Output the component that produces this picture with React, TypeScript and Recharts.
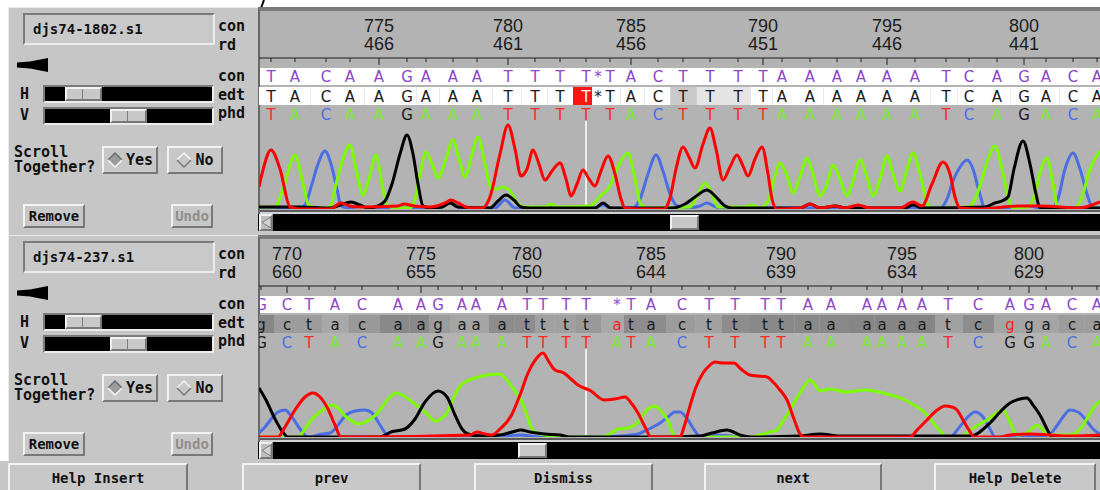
import React from "react";
import {
  ComposedChart,
  LineChart,
  Line,
  Scatter,
  XAxis,
  YAxis,
  ReferenceArea,
  ReferenceLine,
} from "recharts";

// ---- data: top read (djs74-1802.s1) ----
const topScans = [
  271, 295, 326, 350, 379, 407, 426, 453, 477, 508, 535, 560, 586, 598, 610, 631, 658,
  683, 710, 738, 763, 782, 810, 837, 861, 887, 915, 946, 969, 997, 1024, 1046, 1073, 1097,
];
const topCon = "TACAAGAAATTTT*TACTTTTAAAAAATCAGACA";
const topEdt = "TACAAGAAATTTT*TACTTTTAAAAAATCAGACA";
const topPhd = "TACAAGAAATTTT-TACTTTTAAAAAATCAGACA";
const topQual = [
  95, 95, 95, 95, 95, 95, 95, 95, 95, 95, 95, 95, 95, 95, 95, 95, 95, 60, 75, 75, 95, 95,
  95, 95, 95, 95, 95, 95, 95, 95, 95, 95, 95, 95,
];
const topReadLabels = [466, 461, 456, 451, 446, 441];

const topT = [
  [259, 22], [262, 35], [271, 59], [280, 40], [290, 2], [300, 0], [330, 0], [341, 6], [350, 3],
  [360, 2], [398, 3], [404, 5], [414, 3], [430, 2], [445, 6], [451, 9], [458, 6], [470, 1],
  [482, 1], [490, 12], [500, 55], [508, 84], [515, 60], [521, 33], [527, 40], [533, 59],
  [539, 45], [545, 29], [552, 38], [560, 46], [566, 30], [571, 13], [577, 25], [583, 39],
  [589, 30], [595, 23], [601, 38], [608, 53], [615, 35], [621, 10], [625, 1], [640, 0],
  [664, 0], [670, 11], [676, 40], [683, 62], [689, 52], [695, 41], [703, 65], [710, 81],
  [716, 60], [723, 29], [730, 42], [737, 54], [743, 43], [748, 33], [755, 50], [762, 62],
  [768, 35], [772, 10], [777, 0], [800, 1], [810, 5], [820, 1], [835, 3], [845, 1], [858, 4],
  [870, 1], [900, 1], [913, 7], [922, 3], [932, 25], [943, 47], [950, 35], [955, 12],
  [960, 1], [980, 0], [1018, 3], [1040, 3], [1080, 1], [1092, 4], [1100, 7],
];
const topA = [
  [259, 2], [275, 2], [283, 20], [295, 54], [303, 25], [309, 3], [320, 1], [330, 2], [336, 25],
  [343, 50], [350, 64], [356, 40], [363, 14], [369, 30], [376, 54], [382, 25], [387, 4],
  [395, 1], [410, 1], [415, 10], [420, 35], [426, 57], [432, 45], [438, 31], [446, 50],
  [453, 69], [459, 50], [465, 32], [472, 55], [478, 72], [485, 45], [491, 21], [497, 20],
  [503, 22], [510, 18], [518, 5], [525, 2], [545, 2], [551, 5], [557, 2], [590, 3], [601, 14],
  [608, 20], [615, 35], [622, 50], [628, 56], [634, 35], [641, 4], [650, 1], [690, 2],
  [698, 15], [705, 26], [712, 15], [718, 2], [745, 2], [752, 4], [760, 1], [768, 8], [774, 30],
  [780, 46], [787, 33], [793, 16], [800, 32], [807, 51], [813, 35], [820, 13], [827, 25],
  [833, 44], [840, 30], [847, 13], [853, 28], [860, 49], [867, 32], [873, 13], [880, 30],
  [887, 53], [893, 35], [900, 18], [906, 36], [913, 56], [920, 35], [926, 10], [930, 1],
  [968, 2], [975, 10], [982, 30], [988, 50], [995, 63], [1002, 40], [1008, 12], [1013, 1],
  [1028, 2], [1035, 15], [1041, 40], [1047, 51], [1053, 25], [1058, 1], [1075, 1], [1082, 12],
  [1090, 40], [1100, 58],
];
const topC = [
  [259, 1], [300, 1], [305, 4], [312, 25], [318, 45], [325, 58], [331, 45], [337, 20], [341, 3],
  [350, 1], [360, 3], [370, 1], [440, 1], [451, 7], [460, 1], [495, 1], [505, 9], [515, 1],
  [595, 1], [603, 4], [610, 1], [633, 1], [640, 10], [648, 35], [656, 54], [663, 38], [670, 15],
  [676, 4], [685, 1], [700, 3], [707, 6], [714, 3], [720, 1], [940, 1], [947, 10], [953, 28],
  [960, 42], [967, 49], [973, 40], [979, 18], [985, 1], [1020, 1], [1030, 3], [1040, 1],
  [1052, 1], [1058, 10], [1065, 40], [1073, 56], [1080, 40], [1087, 15], [1093, 1], [1100, 1],
];
const topG = [
  [259, 2], [300, 2], [330, 1], [340, 4], [351, 7], [360, 4], [368, 1], [375, 2], [385, 8],
  [392, 25], [400, 55], [407, 74], [413, 55], [418, 25], [423, 3], [430, 1], [442, 2], [450, 6],
  [458, 2], [490, 1], [498, 8], [506, 14], [514, 9], [521, 2], [530, 1], [595, 1], [603, 6],
  [611, 1], [672, 1], [685, 5], [695, 12], [707, 19], [716, 12], [725, 3], [732, 1], [800, 1],
  [810, 5], [820, 1], [836, 3], [845, 1], [905, 1], [913, 4], [922, 1], [985, 2], [995, 6],
  [1002, 8], [1008, 12], [1014, 40], [1023, 68], [1030, 45], [1036, 15], [1040, 1], [1060, 1],
  [1100, 1],
];

// ---- data: bottom read (djs74-237.s1) ----
const botScans = [
  261, 287, 309, 335, 362, 398, 421, 438, 462, 476, 502, 527, 543, 566, 586, 617, 631, 651,
  682, 709, 735, 765, 781, 808, 831, 867, 882, 902, 922, 948, 978, 1010, 1029, 1046, 1072, 1097,
];
const botCon = "GCTACAAGAAATTTT*TACTTTTAAAAAATCAGACA";
const botEdt = "gctacaagaaattttatacttttaaaaaatcggaca";
const botPhd = "GCTACAAGAAATTTTATACTTTTAAAAAATCGGACA";
const botQual = [
  20, 33, 33, 40, 31, 22, 22, 33, 38, 38, 24, 24, 35, 35, 31, 40, 24, 24, 33, 36, 24, 22, 22,
  22, 22, 20, 20, 20, 20, 36, 24, 38, 38, 38, 33, 33,
];
const botReadLabels = [660, 655, 650, 644, 639, 634, 629];

const botT = [
  [259, 0], [278, 0], [285, 10], [295, 27], [305, 40], [313, 44], [320, 40], [328, 28],
  [335, 12], [341, 0], [360, 0], [470, 2], [477, 5], [485, 3], [492, 2], [500, 8], [511, 21],
  [520, 42], [528, 64], [536, 78], [543, 84], [549, 75], [555, 67], [564, 64], [571, 58],
  [578, 52], [591, 46], [604, 37], [615, 38], [625, 40], [632, 33], [638, 24], [645, 10],
  [651, 0], [680, 0], [684, 10], [690, 31], [696, 50], [703, 64], [709, 71], [715, 75],
  [722, 74], [728, 74], [734, 74], [741, 68], [750, 62], [758, 61], [767, 60], [774, 54],
  [780, 47], [787, 37], [794, 18], [800, 3], [804, 0], [910, 0], [918, 8], [927, 17], [936, 26],
  [945, 31], [952, 30], [957, 27], [963, 17], [969, 7], [974, 0], [1000, 0], [1010, 2],
  [1030, 3], [1050, 2], [1070, 1], [1100, 2],
];
const botA = [
  [259, 0], [298, 0], [305, 8], [311, 17], [320, 25], [333, 32], [339, 28], [345, 21], [352, 16],
  [358, 13], [365, 15], [371, 18], [380, 27], [388, 38], [396, 44], [404, 41], [411, 36],
  [420, 29], [428, 22], [435, 16], [441, 18], [448, 26], [454, 40], [460, 51], [467, 56],
  [475, 59], [487, 62], [500, 63], [506, 58], [512, 50], [521, 37], [527, 22], [531, 10],
  [535, 5], [545, 2], [560, 0], [600, 0], [610, 3], [618, 8], [628, 9], [638, 15], [645, 25],
  [655, 31], [661, 26], [668, 16], [673, 3], [676, 0], [750, 0], [760, 2], [770, 5], [777, 7],
  [783, 16], [790, 27], [795, 36], [800, 44], [805, 52], [810, 57], [815, 52], [820, 46],
  [830, 48], [846, 45], [866, 47], [883, 44], [903, 38], [914, 32], [923, 26], [932, 16],
  [940, 6], [947, 0], [960, 0], [970, 7], [980, 13], [987, 17], [995, 23], [1003, 27],
  [1010, 15], [1017, 2], [1025, 3], [1032, 8], [1037, 12], [1042, 8], [1048, 2], [1070, 2],
  [1080, 8], [1088, 20], [1094, 30], [1100, 36],
];
const botC = [
  [259, 4], [265, 10], [272, 19], [278, 25], [285, 27], [292, 20], [300, 8], [308, 0], [322, 3],
  [330, 4], [338, 12], [346, 22], [355, 26], [365, 27], [372, 24], [380, 12], [386, 3],
  [390, 0], [460, 0], [480, 2], [500, 1], [520, 2], [540, 0], [600, 0], [620, 1], [638, 3],
  [645, 6], [651, 9], [660, 14], [668, 20], [675, 25], [680, 25], [688, 17], [695, 6], [700, 0],
  [715, 2], [730, 1], [745, 0], [950, 0], [958, 8], [966, 18], [975, 25], [983, 20], [990, 8],
  [995, 0], [1040, 1], [1050, 3], [1056, 10], [1063, 20], [1070, 27], [1078, 25], [1086, 17],
  [1093, 8], [1100, 3],
];
const botG = [
  [259, 49], [266, 37], [274, 20], [282, 6], [288, 0], [300, 0], [380, 0], [391, 5], [405, 8],
  [415, 18], [425, 35], [438, 46], [447, 40], [455, 22], [462, 8], [468, 3], [480, 1], [500, 2],
  [512, 5], [521, 7], [530, 5], [545, 3], [560, 2], [570, 0], [660, 0], [700, 1], [712, 4],
  [727, 7], [740, 2], [750, 0], [800, 1], [820, 3], [840, 1], [900, 1], [970, 1], [990, 14],
  [1000, 25], [1010, 34], [1020, 38], [1027, 39], [1033, 32], [1040, 22], [1047, 8], [1052, 0],
  [1100, 0],
];

const bottomButtons = ["Help Insert", "prev", "Dismiss", "next", "Help Delete"];

// ---- look ----
const MONO = '"DejaVu Sans Mono", "Liberation Mono", monospace';
const PANEL_BG = "#c6c6c6";
const TRACE_BG = "#b3b3b3";
const CON_COLOR = "#8c48c8";
const TRACE_COLOR: any = { A: "#7dfb00", C: "#4a6fe4", G: "#000000", T: "#ff0000" };
const PHD_COLOR: any = { A: "#7ee832", C: "#4a6fe4", G: "#1a1a1a", T: "#ff2a2a" };
const W = 841;
const X_DOMAIN = [259, 1100];
const SEQ_H = 112;
const TRACE_H = 88;
const ROW = { num: 21, num2: 39, rule: 47, con: 65.5, edtTop: 76, edtBot: 94, edt: 85, phd: 103 };

const raised: any = {
  position: "absolute",
  boxSizing: "border-box",
  background: "#c8c8c8",
  borderTop: "2px solid #f2f2f2",
  borderLeft: "2px solid #f2f2f2",
  borderBottom: "2px solid #787878",
  borderRight: "2px solid #787878",
};
const sunken: any = {
  position: "absolute",
  boxSizing: "border-box",
  borderTop: "2px solid #7a7a7a",
  borderLeft: "2px solid #7a7a7a",
  borderBottom: "2px solid #ececec",
  borderRight: "2px solid #ececec",
};

const topPanel = {
  name: "djs74-1802.s1",
  scans: topScans, con: topCon, edt: topEdt, phd: topPhd, qual: topQual,
  start: 771, readLabels: topReadLabels, cursor: 12, cursorBox: true, thumb: 670,
  traces: { C: topC, A: topA, G: topG, T: topT },
};
const bottomPanel = {
  name: "djs74-237.s1",
  scans: botScans, con: botCon, edt: botEdt, phd: botPhd, qual: botQual,
  start: 769, readLabels: botReadLabels, cursor: 14, cursorBox: false, thumb: 518,
  traces: { C: botC, A: botA, G: botG, T: botT },
};

function qualFill(q: number) {
  const v = Math.min(255, Math.round(100 + q * 1.7));
  return `rgb(${v},${v},${v})`;
}

function SeqChart({ p }: any) {
  const n = p.scans.length;
  const bases = p.scans.map((x: number, i: number) => ({
    x, i, con: p.con[i], edt: p.edt[i], phd: p.phd[i], q: p.qual[i],
  }));
  const ticks: any[] = [];
  let pos = p.start;
  for (const b of bases) {
    if (b.con === "*") continue;
    ticks.push({ x: b.x, y: ROW.rule, pos, major: pos % 5 === 0 });
    pos += 1;
  }
  const majors = ticks
    .filter((t) => t.major)
    .map((t, k) => ({ x: t.x, y: ROW.num, pos: t.pos, read: p.readLabels[k] }));
  const cells = bases.map((b: any, i: number) => ({
    i,
    x1: i === 0 ? X_DOMAIN[0] : (bases[i - 1].x + b.x) / 2,
    x2: i === n - 1 ? X_DOMAIN[1] : (b.x + bases[i + 1].x) / 2,
    q: b.q,
  }));
  const conPts = bases.map((b: any) => ({ ...b, y: ROW.con }));
  const edtPts = bases.map((b: any) => ({ ...b, y: ROW.edt }));
  const phdPts = bases.filter((b: any) => b.phd !== "-").map((b: any) => ({ ...b, y: ROW.phd }));

  const letter = (color: (b: any) => string, key: string) => (s: any) => (
    <text
      x={s.cx}
      y={s.cy + 5.5}
      textAnchor="middle"
      fontFamily='"DejaVu Sans", sans-serif'
      fontSize={15}
      fill={color(s.payload)}
    >
      {s.payload[key]}
    </text>
  );

  return (
    <ComposedChart width={W} height={SEQ_H} margin={{ top: 0, right: 0, bottom: 0, left: 0 }}>
      <XAxis type="number" dataKey="x" domain={X_DOMAIN} hide allowDataOverflow />
      <YAxis type="number" dataKey="y" domain={[0, SEQ_H]} reversed hide allowDataOverflow />
      {cells.map((c: any) => (
        <ReferenceArea
          key={c.i}
          x1={c.x1}
          x2={c.x2}
          y1={ROW.edtTop}
          y2={ROW.edtBot}
          fill={p.cursorBox && c.i === p.cursor ? "#ff1414" : qualFill(c.q)}
          fillOpacity={1}
          stroke="none"
          ifOverflow="visible"
        />
      ))}
      <ReferenceLine y={ROW.rule} stroke="#1e1e1e" strokeWidth={1} />
      <Scatter
        data={ticks}
        isAnimationActive={false}
        shape={(s: any) => (
          <line
            x1={s.cx}
            x2={s.cx}
            y1={s.cy}
            y2={s.cy + (s.payload.major ? 7 : 4)}
            stroke="#1e1e1e"
            strokeWidth={1}
          />
        )}
      />
      <Scatter
        data={majors}
        isAnimationActive={false}
        shape={(s: any) => (
          <g fontFamily='"Liberation Sans", Arial, sans-serif' fontSize={18} fill="#1c1c1c">
            <text x={s.cx} y={s.cy} textAnchor="middle">{s.payload.pos}</text>
            <text x={s.cx} y={s.cy + ROW.num2 - ROW.num} textAnchor="middle">{s.payload.read}</text>
          </g>
        )}
      />
      <Scatter data={conPts} isAnimationActive={false} shape={letter(() => CON_COLOR, "con")} />
      <Scatter
        data={edtPts}
        isAnimationActive={false}
        shape={letter((b) => {
          if (p.cursorBox && b.i === p.cursor) return "#ffffff";
          if (b.edt.toUpperCase() !== b.con.toUpperCase()) return "#ff1e1e";
          return "#1a1a1a";
        }, "edt")}
      />
      <Scatter data={phdPts} isAnimationActive={false} shape={letter((b) => PHD_COLOR[b.phd], "phd")} />
    </ComposedChart>
  );
}

function TraceChart({ p }: any) {
  const order = ["C", "A", "G", "T"];
  return (
    <LineChart width={W} height={TRACE_H} margin={{ top: 0, right: 0, bottom: 0, left: 0 }}>
      <XAxis type="number" dataKey="x" domain={X_DOMAIN} hide allowDataOverflow />
      <YAxis type="number" domain={[0, TRACE_H]} hide allowDataOverflow />
      <ReferenceLine x={p.scans[p.cursor]} stroke="#ffffff" strokeWidth={1.5} />
      {order.map((b) => (
        <Line
          key={b}
          data={p.traces[b].map(([x, h]: number[]) => ({ x, h }))}
          dataKey="h"
          type="monotone"
          stroke={TRACE_COLOR[b]}
          strokeWidth={3}
          strokeLinejoin="round"
          dot={false}
          isAnimationActive={false}
        />
      ))}
    </LineChart>
  );
}

function Label({ text, x, y, size = 15, lh = 14 }: any) {
  return (
    <div
      style={{
        position: "absolute", left: x, top: y, fontFamily: MONO, fontWeight: "bold",
        fontSize: size, lineHeight: `${lh}px`, color: "#111", whiteSpace: "pre",
      }}
    >
      {text}
    </div>
  );
}

function Button({ x, y, w, h, children, color = "#111", size = 14 }: any) {
  return (
    <div
      style={{
        ...raised, left: x, top: y, width: w, height: h, display: "flex",
        alignItems: "center", justifyContent: "center", fontFamily: MONO,
        fontWeight: "bold", fontSize: size, color,
      }}
    >
      {children}
    </div>
  );
}

function Diamond({ on }: any) {
  return (
    <svg width={16} height={16} style={{ marginRight: 3 }}>
      <polygon points="8,1 15,8 8,15 1,8" fill={on ? "#9c9c9c" : "#c8c8c8"} />
      <polyline points="1,8 8,1 15,8" fill="none" stroke={on ? "#6e6e6e" : "#f4f4f4"} strokeWidth={1.5} />
      <polyline points="1,8 8,15 15,8" fill="none" stroke={on ? "#f4f4f4" : "#7a7a7a"} strokeWidth={1.5} />
    </svg>
  );
}

function Panel({ p, off }: any) {
  const t = (v: number) => v + off;
  return (
    <>
      <div
        style={{
          position: "absolute", left: 8, top: t(7), width: 250, height: 228,
          background: PANEL_BG, borderTop: "1px solid #eaeaea", borderLeft: "1px solid #eaeaea",
          boxSizing: "border-box",
        }}
      />
      <div style={{ ...sunken, left: 23, top: t(13), width: 192, height: 32, background: "#c9c9c9" }}>
        <div
          style={{
            position: "absolute", left: 8, top: 6, fontFamily: MONO, fontWeight: "bold",
            fontSize: 14, lineHeight: "16px", color: "#111",
          }}
        >
          {p.name}
        </div>
      </div>
      <Label text="con" x={218} y={t(19)} />
      <Label text="rd" x={218} y={t(38)} />
      <svg style={{ position: "absolute", left: 15, top: t(56) }} width={36} height={18}>
        <polygon points="2,6.5 15,5.5 33,2 33,16 15,12.5 2,11.5" fill="#000" />
      </svg>
      <Label text="con" x={218} y={t(69)} />
      <Label text="edt" x={218} y={t(88)} />
      <Label text="phd" x={218} y={t(106)} />
      <Label text="H" x={20} y={t(87)} />
      <Label text="V" x={20} y={t(108)} />
      <div style={{ ...sunken, left: 43, top: t(85), width: 171, height: 18, background: "#000" }} />
      <div style={{ ...raised, left: 65, top: t(87), width: 37, height: 14 }}>
        <div style={{ position: "absolute", left: 15, top: 0, width: 1, height: 10, background: "#808080" }} />
      </div>
      <div style={{ ...sunken, left: 43, top: t(107), width: 171, height: 18, background: "#000" }} />
      <div style={{ ...raised, left: 110, top: t(109), width: 37, height: 14 }}>
        <div style={{ position: "absolute", left: 15, top: 0, width: 1, height: 10, background: "#808080" }} />
      </div>
      <Label text={"Scroll\nTogether?"} x={14} y={t(145)} lh={14.5} />
      <Button x={102} y={t(146)} w={56} h={28} size={15}>
        <Diamond on />
        Yes
      </Button>
      <Button x={167} y={t(146)} w={56} h={28} size={15}>
        <Diamond />
        No
      </Button>
      <Button x={23} y={t(204)} w={62} h={24}>Remove</Button>
      <Button x={171} y={t(204)} w={42} h={24} color="#8e8e8e">Undo</Button>

      <div
        style={{
          position: "absolute", left: 258, top: t(7), width: 842, height: 228,
          background: TRACE_BG, borderLeft: "2px solid #686868", borderTop: "4px solid #7a7a7a",
          boxSizing: "border-box",
        }}
      />
      <div style={{ position: "absolute", left: 260, top: t(68), width: 840, height: 17, background: "#fff" }} />
      <div style={{ position: "absolute", left: 259, top: t(11) }}>
        <SeqChart p={p} />
      </div>
      <div style={{ position: "absolute", left: 259, top: t(121) }}>
        <TraceChart p={p} />
      </div>
      <div style={{ position: "absolute", left: 260, top: t(210), width: 840, height: 2, background: "#5c5c5c" }} />
      <div style={{ position: "absolute", left: 260, top: t(212), width: 840, height: 2, background: "#d2d2d2" }} />
      <div style={{ position: "absolute", left: 258, top: t(214), width: 842, height: 17, background: "#000" }} />
      <div style={{ ...raised, left: 259, top: t(214), width: 14, height: 17, background: "#bdbdbd" }}>
        <svg width={10} height={13} style={{ position: "absolute", left: 0, top: 0 }}>
          <polygon points="1,6.5 10,1 10,12" fill="#d4d4d4" stroke="#7a7a7a" strokeWidth={1} />
        </svg>
      </div>
      <div style={{ ...raised, left: p.thumb, top: t(215), width: 29, height: 15 }} />
      <div style={{ position: "absolute", left: 258, top: t(231), width: 842, height: 4, background: "#c8c8c8" }} />
    </>
  );
}

export default function App() {
  const lefts = [8, 242, 474, 704, 934];
  const widths = [180, 179, 179, 178, 162];
  return (
    <div
      style={{
        position: "absolute", left: 0, top: 0, width: 1100, height: 490,
        background: "#ffffff", overflow: "hidden",
      }}
    >
      <svg style={{ position: "absolute", left: 256, top: 0 }} width={14} height={8}>
        <line x1={5} y1={8} x2={8} y2={0} stroke="#000" strokeWidth={2} />
      </svg>
      <Panel p={topPanel} off={0} />
      <Panel p={bottomPanel} off={228} />
      <div style={{ position: "absolute", left: 0, top: 461, width: 1100, height: 29, background: PANEL_BG }} />
      {bottomButtons.map((b, i) => (
        <Button key={b} x={lefts[i]} y={463} w={widths[i]} h={30}>{b}</Button>
      ))}
    </div>
  );
}
